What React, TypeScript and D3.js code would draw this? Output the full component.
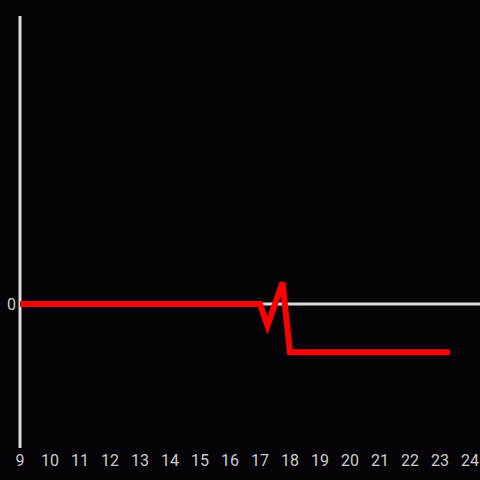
import React from "react";
import * as d3 from "d3";

const hours = [9, 17, 17.25, 17.75, 18, 23.33];
const values = [0, 0, -0.15, 0.15, -0.335, -0.335];
const xTicks = [9, 10, 11, 12, 13, 14, 15, 16, 17, 18, 19, 20, 21, 22, 23, 24];
const yTicks = [0];

export default function App() {
  const W = 480, H = 480;
  const x = d3.scaleLinear().domain([9, 24]).range([20, 470]);
  const y = d3.scaleLinear().domain([-1, 2]).range([448, 16]);
  const pts = hours.map((h, i) => [h, values[i]] as [number, number]);
  const line = d3.line<[number, number]>().x(d => x(d[0])).y(d => y(d[1]));
  return (
    <svg width={W} height={H} style={{ position: "fixed", left: 0, top: 0, background: "#050307" }}
      fontFamily="Roboto, Liberation Sans, Arial, sans-serif">
      <rect x={0} y={0} width={W} height={H} fill="#050307" />
      <line x1={20} x2={480} y1={y(0)} y2={y(0)} stroke="#dddddd" strokeWidth={3} />
      <line x1={20} x2={20} y1={16} y2={448} stroke="#dddddd" strokeWidth={3} />
      {yTicks.map(t => (
        <text key={t} x={16} y={y(t) + 0.5} dy="0.36em" textAnchor="end" fill="#cccccc" fontSize={16}>{t}</text>
      ))}
      {xTicks.map(t => (
        <text key={t} x={x(t)} y={466} textAnchor="middle" fill="#cccccc" fontSize={16}>{t}</text>
      ))}
      <path d={line(pts) || ""} fill="none" stroke="#ff0000" strokeWidth={6} />
    </svg>
  );
}
